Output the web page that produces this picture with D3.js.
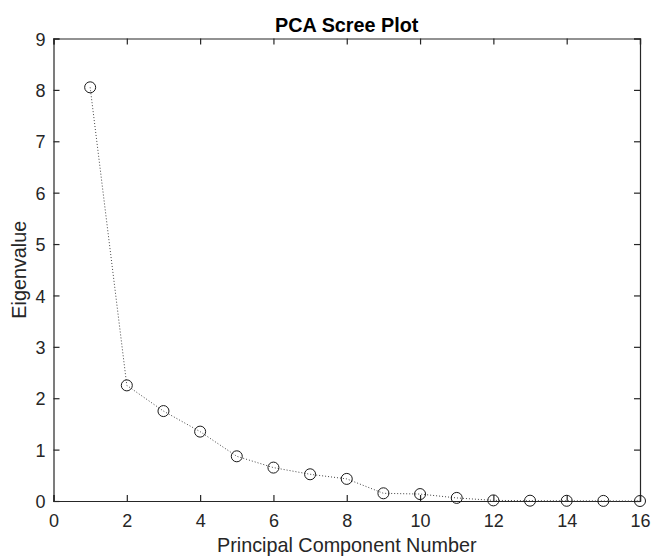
<!DOCTYPE html>
<html>
<head>
<meta charset="utf-8">
<script src="https://cdn.jsdelivr.net/npm/d3@7"></script>
<style>
  html, body { margin: 0; padding: 0; background: #fff; }
  svg { display: block; font-family: "Liberation Sans", Arial, Helvetica, sans-serif; }
</style>
</head>
<body>
<svg id="chart" width="651" height="556"></svg>
<script>
// Eigenvalues for each principal component
const components = [1, 2, 3, 4, 5, 6, 7, 8, 9, 10, 11, 12, 13, 14, 15, 16];
const eigenvalues = [8.05, 2.25, 1.75, 1.35, 0.87, 0.65, 0.52, 0.43, 0.15, 0.135, 0.06, 0.012, 0.006, 0.004, 0.002, 0.0];
const xTicks = [0, 2, 4, 6, 8, 10, 12, 14, 16];
const yTicks = [0, 1, 2, 3, 4, 5, 6, 7, 8, 9];

const svg = d3.select("#chart");
const margin = { left: 53.5, right: 11, top: 38.5, bottom: 55 };
const W = 651, H = 556;
const x = d3.scaleLinear().domain([0, 16]).range([margin.left, W - margin.right]);
const y = d3.scaleLinear().domain([0, 9]).range([H - margin.bottom, margin.top]);

const tickLen = 6;
const tickFont = 18;
const labelFont = 19.8;
const axisColor = "#262626";

// Bottom and top axes (ticks pointing inward)
const gx = svg.append("g").attr("transform", `translate(0,${y(0)})`)
  .call(d3.axisBottom(x).tickValues(xTicks).tickSize(-tickLen).tickPadding(13).tickFormat(d3.format("d")));
const gxTop = svg.append("g").attr("transform", `translate(0,${y(9)})`)
  .call(d3.axisTop(x).tickValues(xTicks).tickSize(-tickLen).tickFormat(""));
// Left and right axes
const gy = svg.append("g").attr("transform", `translate(${x(0)},0)`)
  .call(d3.axisLeft(y).tickValues(yTicks).tickSize(-tickLen).tickPadding(8).tickFormat(d3.format("d")));
const gyRight = svg.append("g").attr("transform", `translate(${x(16)},0)`)
  .call(d3.axisRight(y).tickValues(yTicks).tickSize(-tickLen).tickFormat(""));

[gx, gxTop, gy, gyRight].forEach(g => {
  g.attr("font-size", null).attr("font-family", null);
  g.select(".domain").attr("stroke", axisColor).attr("stroke-width", 1.2);
  g.selectAll(".tick line").attr("stroke", axisColor).attr("stroke-width", 1.2);
  g.selectAll(".tick text").attr("fill", axisColor).style("font-size", tickFont + "px");
});
gx.selectAll(".tick text").attr("dy", "0.71em");
gy.selectAll(".tick text").attr("dy", "0.37em");

// Dotted connecting line
const line = d3.line().x((d, i) => x(components[i])).y(d => y(d));
svg.append("path")
  .datum(eigenvalues)
  .attr("d", line)
  .attr("fill", "none")
  .attr("stroke", "#444")
  .attr("stroke-width", 1)
  .attr("stroke-dasharray", "1,2");

// Circle markers
svg.append("g").selectAll("circle")
  .data(eigenvalues)
  .join("circle")
  .attr("cx", (d, i) => x(components[i]))
  .attr("cy", d => y(d))
  .attr("r", 5.5)
  .attr("fill", "none")
  .attr("stroke", "#1a1a1a")
  .attr("stroke-width", 1);

// Title
svg.append("text")
  .attr("x", (x(0) + x(16)) / 2)
  .attr("y", 32)
  .attr("text-anchor", "middle")
  .style("font-size", labelFont + "px")
  .attr("font-weight", "bold")
  .attr("fill", "#000")
  .text("PCA Scree Plot");

// Axis labels
svg.append("text")
  .attr("x", (x(0) + x(16)) / 2)
  .attr("y", 551.5)
  .attr("text-anchor", "middle")
  .style("font-size", labelFont + "px")
  .attr("fill", axisColor)
  .text("Principal Component Number");

svg.append("text")
  .attr("transform", `translate(25.5,${(y(0) + y(9)) / 2}) rotate(-90)`)
  .attr("text-anchor", "middle")
  .style("font-size", labelFont + "px")
  .attr("fill", axisColor)
  .text("Eigenvalue");
</script>
</body>
</html>
